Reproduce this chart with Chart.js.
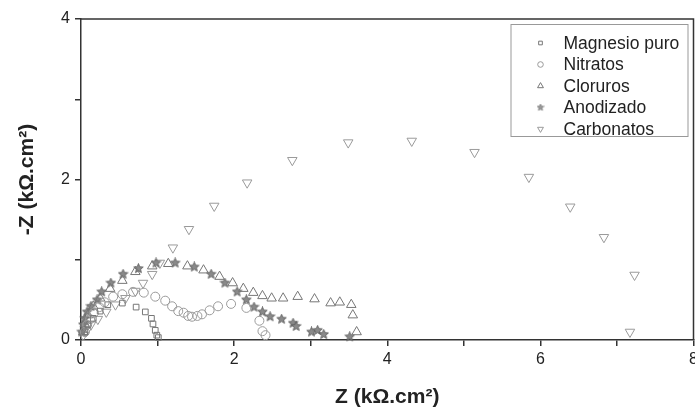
<!DOCTYPE html>
<html>
<head>
<meta charset="utf-8">
<script src="https://cdn.jsdelivr.net/npm/chart.js@4.4.1/dist/chart.umd.min.js"></script>
<style>
  html, body { margin: 0; padding: 0; background: #fff; overflow: hidden; }
  #wrap { width: 700px; height: 417px; position: relative; }
</style>
</head>
<body>
<div id="wrap"><canvas id="nyquist"></canvas></div>
<script>
// series names, in legend order
var seriesNames = ['Magnesio puro', 'Nitratos', 'Cloruros', 'Anodizado', 'Carbonatos']

// Z' (kOhm.cm2) and -Z'' (kOhm.cm2)
var magnesioX = [0.05, 0.09, 0.16, 0.25, 0.35, 0.54, 0.72, 0.84, 0.92, 0.94, 0.97, 0.99, 1.01]
var magnesioY = [0.10, 0.19, 0.27, 0.36, 0.44, 0.46, 0.41, 0.35, 0.27, 0.20, 0.12, 0.06, 0.03]

var nitratosX = [0.05, 0.08, 0.12, 0.17, 0.24, 0.31, 0.42, 0.54, 0.68, 0.82, 0.97, 1.10, 1.19, 1.27, 1.34, 1.40, 1.45, 1.52, 1.58, 1.68, 1.79, 1.96, 2.16, 2.33, 2.37, 2.41]
var nitratosY = [0.10, 0.19, 0.26, 0.34, 0.41, 0.47, 0.54, 0.57, 0.60, 0.59, 0.54, 0.49, 0.42, 0.36, 0.34, 0.30, 0.29, 0.30, 0.32, 0.37, 0.42, 0.45, 0.40, 0.24, 0.11, 0.06]

var clorurosX = [0.03, 0.05, 0.09, 0.16, 0.25, 0.38, 0.54, 0.71, 0.93, 1.14, 1.39, 1.60, 1.81, 1.98, 2.12, 2.25, 2.37, 2.49, 2.64, 2.83, 3.05, 3.26, 3.38, 3.53, 3.55, 3.60]
var clorurosY = [0.10, 0.20, 0.31, 0.42, 0.52, 0.64, 0.74, 0.85, 0.92, 0.95, 0.92, 0.87, 0.79, 0.71, 0.64, 0.59, 0.55, 0.52, 0.52, 0.54, 0.51, 0.46, 0.47, 0.44, 0.31, 0.10]

var anodizadoX = [0.01, 0.03, 0.05, 0.08, 0.13, 0.21, 0.27, 0.39, 0.55, 0.75, 0.98, 1.23, 1.48, 1.70, 1.88, 2.04, 2.16, 2.26, 2.37, 2.47, 2.62, 2.77, 2.81, 3.01, 3.09, 3.17, 3.51]
var anodizadoY = [0.10, 0.19, 0.27, 0.35, 0.42, 0.50, 0.60, 0.71, 0.82, 0.89, 0.96, 0.96, 0.91, 0.82, 0.71, 0.60, 0.50, 0.41, 0.35, 0.29, 0.26, 0.21, 0.17, 0.10, 0.12, 0.07, 0.04]

var carbonatosX = [0.03, 0.07, 0.13, 0.22, 0.33, 0.45, 0.58, 0.71, 0.81, 0.93, 1.03, 1.20, 1.41, 1.74, 2.17, 2.76, 3.49, 4.32, 5.14, 5.85, 6.39, 6.83, 7.23, 7.17]
var carbonatosY = [0.06, 0.11, 0.19, 0.26, 0.35, 0.44, 0.52, 0.61, 0.71, 0.82, 0.96, 1.15, 1.38, 1.67, 1.96, 2.24, 2.46, 2.48, 2.34, 2.03, 1.66, 1.28, 0.81, 0.10]

// axis ticks
var xTickLabels = [0, 2, 4, 6, 8]
var yTickLabels = [0, 2, 4]

function pairUp(xs, ys) {
    var pts = new Array()
    for (var i = 0; i < xs.length; i++) {
        pts.push({x: xs[i], y: ys[i]})
    }
    return pts
}

// little filled five point star, used as a point image
function makeStar(size, fill, stroke) {
    var c = document.createElement('canvas')
    c.width = size
    c.height = size
    var ctx = c.getContext('2d')
    var cx = size / 2, cy = size / 2
    var outer = size / 2 - 0.5, inner = outer * 0.45
    ctx.beginPath()
    for (var i = 0; i < 10; i++) {
        var r = i % 2 == 0 ? outer : inner
        var a = -Math.PI / 2 + i * Math.PI / 5
        var px = cx + r * Math.cos(a), py = cy + r * Math.sin(a)
        if (i == 0) ctx.moveTo(px, py); else ctx.lineTo(px, py)
    }
    ctx.closePath()
    ctx.fillStyle = fill
    ctx.fill()
    ctx.lineWidth = 0.8
    ctx.strokeStyle = stroke
    ctx.stroke()
    return c
}

var starBig = makeStar(11, '#8a8a8a', '#555')
var starSmall = makeStar(8, '#9a9a9a', '#777')

var markers = [
    {pointStyle: 'rect', radius: 4, rotation: 0, color: '#777', legendRadius: 2.6},
    {pointStyle: 'circle', radius: 4.5, rotation: 0, color: '#9a9a9a', legendRadius: 2.8},
    {pointStyle: 'triangle', radius: 5.5, rotation: 0, color: '#777', legendRadius: 3.4},
    {pointStyle: starBig, radius: 5, rotation: 0, color: '#666', legendStyle: starSmall},
    {pointStyle: 'triangle', radius: 5.5, rotation: 180, color: '#9a9a9a', legendRadius: 3.4}
]

var allX = [magnesioX, nitratosX, clorurosX, anodizadoX, carbonatosX]
var allY = [magnesioY, nitratosY, clorurosY, anodizadoY, carbonatosY]

var datasets = new Array()
for (var s = 0; s < seriesNames.length; s++) {
    datasets.push({
        label: seriesNames[s],
        data: pairUp(allX[s], allY[s]),
        showLine: false,
        clip: false,
        pointStyle: markers[s].pointStyle,
        pointRadius: markers[s].radius,
        pointHoverRadius: markers[s].radius,
        pointRotation: markers[s].rotation,
        pointBorderWidth: 1,
        borderColor: markers[s].color,
        backgroundColor: 'rgba(0,0,0,0)',
        pointBorderColor: markers[s].color,
        pointBackgroundColor: 'rgba(0,0,0,0)'
    })
}

// top and right edges of the frame
var framePlugin = {
    id: 'frame',
    afterDraw: function (chart) {
        var a = chart.chartArea, ctx = chart.ctx
        ctx.save()
        ctx.strokeStyle = '#333'
        ctx.lineWidth = 1.5
        ctx.beginPath()
        ctx.moveTo(a.left, a.top)
        ctx.lineTo(a.right, a.top)
        ctx.lineTo(a.right, a.bottom)
        ctx.stroke()
        ctx.restore()
    }
}

// boxed legend inside the plot, top right
var boxLegendPlugin = {
    id: 'boxLegend',
    afterDraw: function (chart) {
        var a = chart.chartArea, ctx = chart.ctx
        var left = a.right - 183, top = a.top + 5, w = 177, h = 112
        ctx.save()
        ctx.fillStyle = '#fff'
        ctx.fillRect(left, top, w, h)
        ctx.strokeStyle = '#999'
        ctx.lineWidth = 1
        ctx.strokeRect(left + 0.5, top + 0.5, w, h)
        ctx.font = '17.5px "Liberation Sans", Arial, sans-serif'
        ctx.textBaseline = 'middle'
        for (var i = 0; i < seriesNames.length; i++) {
            var y = top + 19 + i * 21.5
            var m = markers[i]
            ctx.strokeStyle = m.color
            ctx.fillStyle = 'rgba(0,0,0,0)'
            ctx.lineWidth = 1
            Chart.helpers.drawPoint(ctx, {
                pointStyle: m.legendStyle || m.pointStyle,
                radius: m.legendRadius || 4,
                rotation: m.rotation,
                borderWidth: 1
            }, left + 30, y)
            ctx.fillStyle = '#222'
            ctx.fillText(seriesNames[i], left + 53, y + 1)
        }
        ctx.restore()
    }
}

var tickFont = {family: '"Liberation Sans", Arial, sans-serif', size: 16}
var titleFont = {family: '"Liberation Sans", Arial, sans-serif', size: 21, weight: 'bold'}

new Chart(document.getElementById('nyquist').getContext('2d'), {
    type: 'scatter',
    data: {datasets: datasets},
    options: {
        responsive: true,
        maintainAspectRatio: false,
        animation: false,
        layout: {padding: {top: 19, right: 0, left: 0, bottom: 0}},
        plugins: {
            legend: {display: false},
            tooltip: {enabled: false}
        },
        scales: {
            x: {
                type: 'linear',
                min: xTickLabels[0],
                max: xTickLabels[xTickLabels.length - 1],
                border: {display: true, color: '#333', width: 1.5},
                grid: {display: true, drawOnChartArea: false, drawTicks: true, tickLength: 6, color: '#333', lineWidth: 1.5},
                ticks: {
                    stepSize: 1,
                    padding: 4,
                    color: '#222',
                    font: tickFont,
                    maxRotation: 0,
                    callback: function (v) { return xTickLabels.indexOf(v) >= 0 ? String(v) : '' }
                },
                title: {display: true, text: 'Z (kΩ.cm²)', color: '#222', font: titleFont, padding: {top: 12, bottom: 7}},
                afterFit: function (scale) {
                    scale.height = 77
                    scale.paddingLeft = 0
                    scale.paddingRight = 0
                }
            },
            y: {
                type: 'linear',
                min: yTickLabels[0],
                max: yTickLabels[yTickLabels.length - 1],
                border: {display: true, color: '#333', width: 1.5},
                grid: {display: true, drawOnChartArea: false, drawTicks: true, tickLength: 6, color: '#333', lineWidth: 1.5},
                ticks: {
                    stepSize: 1,
                    padding: 5,
                    color: '#222',
                    font: tickFont,
                    callback: function (v) { return yTickLabels.indexOf(v) >= 0 ? String(v) : '' }
                },
                title: {display: true, text: '-Z (kΩ.cm²)', color: '#222', font: titleFont, padding: {top: 15, bottom: 6}},
                afterFit: function (scale) {
                    scale.width = 81
                    scale.paddingTop = 0
                    scale.paddingBottom = 0
                }
            }
        }
    },
    plugins: [framePlugin, boxLegendPlugin]
})
</script>
</body>
</html>
